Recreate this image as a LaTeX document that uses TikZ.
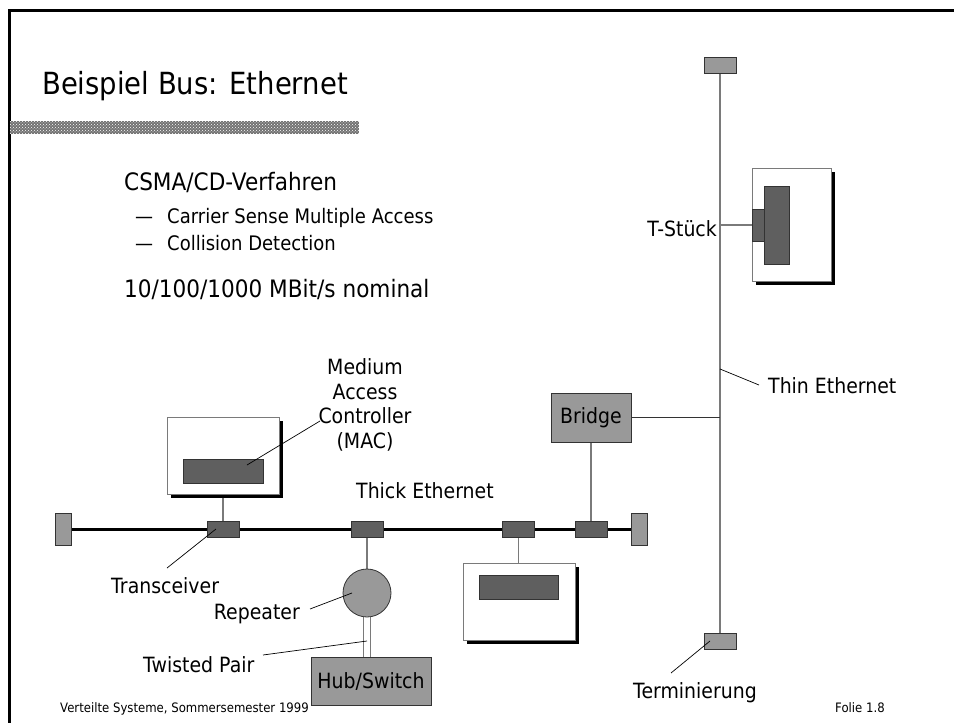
\documentclass[tikz,border=0pt]{standalone}
\usepackage{fontspec}
\setmainfont{DejaVu Sans}[FakeStretch=0.9]
\usetikzlibrary{patterns,shadows,backgrounds}
\definecolor{termgray}{HTML}{999999}
\definecolor{darkbox}{HTML}{5F5F5F}
\definecolor{wiregray}{HTML}{7A7A7A}
\definecolor{edgec}{HTML}{333333}
\tikzset{
  txt/.style={inner sep=0pt, font=\fontsize{21}{25}\selectfont},
  bigtxt/.style={inner sep=0pt, font=\fontsize{24}{28}\selectfont},
  subtxt/.style={inner sep=0pt, font=\fontsize{20}{24}\selectfont},
  foot/.style={inner sep=0pt, font=\fontsize{13}{15}\selectfont},
  term/.style={draw=edgec, fill=termgray, line width=0.8pt, inner sep=0pt},
  dark/.style={draw=edgec, fill=darkbox, line width=0.8pt, inner sep=0pt},
  pcbox/.style={draw=wiregray, fill=white, line width=0.8pt, inner sep=0pt,
    drop shadow={shadow xshift=4pt, shadow yshift=-4pt, fill=black, opacity=1}},
  gbox/.style={draw=edgec, fill=termgray, line width=0.8pt, inner sep=0pt,
    font=\fontsize{21}{25}\selectfont},
  wire/.style={draw=wiregray, line width=1.2pt},
  leader/.style={draw=black, line width=0.7pt},
}
\begin{document}
\begin{tikzpicture}[x=1pt,y=-1pt]
\useasboundingbox (0,0) rectangle (954,723);
% frame
\draw[line width=3pt] (9,723) -- (9,10.5) -- (954,10.5);
% title
\node[inner sep=0pt, anchor=base west, font=\fontsize{30.5}{36}\selectfont] (title) at (42,94) {Beispiel Bus: Ethernet};
\fill[black!55] (10,121) rectangle (359,134);
\fill[pattern=crosshatch dots, pattern color=white] (10,121) rectangle (359,134);
% bullets
\node[bigtxt, anchor=base west] (b1) at (124,190) {CSMA/CD-Verfahren};
\node[subtxt, anchor=base west] (d1) at (135,223) {\textemdash};
\node[subtxt, anchor=base west] (b2) at (167,223) {Carrier Sense Multiple Access};
\node[subtxt, anchor=base west] (d2) at (135,250) {\textemdash};
\node[subtxt, anchor=base west] (b3) at (167,250) {Collision Detection};
\node[bigtxt, anchor=base west] (b4) at (124,297) {10/100/1000 MBit/s nominal};

% bus terminators and transceivers
\node[term, minimum width=16, minimum height=32] (tl) at (63,529) {};
\node[term, minimum width=16, minimum height=32] (tr) at (639,529) {};
\node[dark, minimum width=32, minimum height=16] (x1) at (223,529) {};
\node[dark, minimum width=32, minimum height=16] (x2) at (367,529) {};
\node[dark, minimum width=32, minimum height=16] (x3) at (518.5,529) {};
\node[dark, minimum width=32, minimum height=16] (x4) at (591,529) {};

% computer 1
\node[pcbox, minimum width=112, minimum height=77] (pc1) at (223,455.5) {};
\node[dark, minimum width=80, minimum height=24] (mac1) at (223,471) {};
% computer 2
\node[pcbox, minimum width=112, minimum height=77] (pc2) at (519,601.5) {};
\node[dark, minimum width=79, minimum height=24] (mac2) at (518.5,587) {};
% computer 3
\node[pcbox, minimum width=79, minimum height=113] (pc3) at (791.5,224.5) {};
\node[dark, minimum width=25, minimum height=78] (mac3) at (776.5,225) {};
\node[dark, minimum width=12, minimum height=32] (tst) at (758,225) {};

% repeater, hub, bridge
\node[circle, draw=edgec, fill=termgray, line width=0.8pt, minimum size=48, inner sep=0pt] (rep) at (367,593) {};
\node[gbox, minimum width=120, minimum height=48] (hub) at (371,681) {Hub/Switch};
\node[gbox, minimum width=80, minimum height=49] (bridge) at (591,417.5) {Bridge};

% thin ethernet terminators
\node[term, minimum width=32, minimum height=16] (ttop) at (720,65) {};
\node[term, minimum width=32, minimum height=16] (tbot) at (720,641) {};

\begin{pgfonlayer}{background}
\draw[line width=3pt] (tl.east) -- (tr.west);
\draw[wire] (ttop.south) -- (tbot.north);
\draw[wire] (mac1.south) -- (x1.north);
\draw[wire] (x3.south) -- (mac2.north);
\draw[wire] (x2.south) -- (rep.north);
\draw[wire, line width=1pt] (rep.-98) -- (rep.-98 |- hub.north);
\draw[wire, line width=1pt] (rep.-82) -- (rep.-82 |- hub.north);
\draw[wire] (bridge.south) -- (x4.north);
\draw[line width=1pt, draw=black!80] (bridge.east) -- (bridge.east -| ttop.south);
\draw[wire] (tst.west) -- (tst.west -| ttop.south);
\end{pgfonlayer}

% labels
\node[txt, align=center, font=\fontsize{21}{24.7}\selectfont] (maclbl) at (365,405) {Medium\\Access\\Controller\\(MAC)};
\node[txt, anchor=base west] (thick) at (356,498) {Thick Ethernet};
\node[txt, anchor=base west] (trlbl) at (111,593) {Transceiver};
\node[txt, anchor=base east] (replbl) at (300,619) {Repeater};
\node[txt, anchor=base west] (tplbl) at (143,672) {Twisted Pair};
\node[txt, anchor=base east] (tslbl) at (717,236) {T-Stück};
\node[txt, anchor=base west] (thinlbl) at (768,393) {Thin Ethernet};
\node[txt, anchor=base east] (termlbl) at (757,698) {Terminierung};

\coordinate (l1a) at (320,421); \coordinate (l1b) at (247,465);
\coordinate (l2a) at (167,568); \coordinate (l2b) at (216,529);
\coordinate (l3a) at (310,609); \coordinate (l3b) at (352,593);
\coordinate (l4a) at (263,655); \coordinate (l4b) at (367,641);
\coordinate (l5a) at (720,369); \coordinate (l5b) at (759,385);
\coordinate (l6a) at (671,673); \coordinate (l6b) at (710,641);
\draw[leader] (l1a) -- (l1b);
\draw[leader] (l2a) -- (l2b);
\draw[leader] (l3a) -- (l3b);
\draw[leader] (l4a) -- (l4b);
\draw[leader] (l5a) -- (l5b);
\draw[leader] (l6a) -- (l6b);

% footer
\node[foot, anchor=base west] (f1) at (60,712) {Verteilte Systeme, Sommersemester 1999};
\node[foot, anchor=base west] (f2) at (835,712) {Folie 1.8};
\end{tikzpicture}
\end{document}
